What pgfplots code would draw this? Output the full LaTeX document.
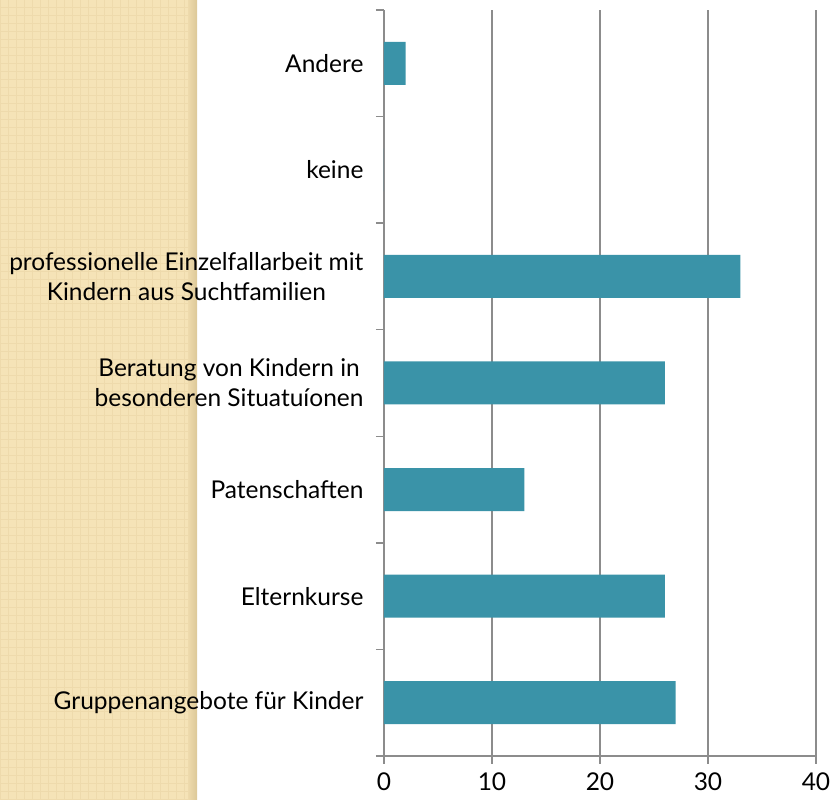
\documentclass[border=0pt]{standalone}
\usepackage{pgfplots}
\pgfplotsset{compat=1.18}
\usepackage{fontspec}
\setmainfont{Lato}
\definecolor{barc}{HTML}{3A93A8}
\definecolor{gridc}{HTML}{8C8C8C}
\definecolor{beige}{HTML}{F5E3B7}
\definecolor{beigeline}{HTML}{EEDAAC}
\definecolor{beigedark}{HTML}{DCC898}
\begin{document}
\begin{tikzpicture}[x=1pt,y=1pt]
\useasboundingbox (0,0) rectangle (831,800);
\fill[beige] (0,0) rectangle (197,800);
\draw[beigeline, line width=1pt, step=8] (0,0) grid (197,800);
\shade[left color=beigeline, right color=beigedark] (188,0) rectangle (197,800);
\begin{axis}[
  at={(384pt,44pt)}, anchor=south west,
  scale only axis, width=432pt, height=746pt,
  xbar, xmin=0, xmax=40, ymin=-0.5, ymax=6.5,
  axis x line=bottom, axis y line=left,
  axis line style={-, draw=gridc, line width=1.5pt},
  xtick={0,10,20,30,40},
  ytick={0,...,6},
  yticklabels={Gruppenangebote für Kinder, Elternkurse, Patenschaften,
    {Beratung von Kindern in\\besonderen Situatuíonen},
    {professionelle Einzelfallarbeit mit\\Kindern aus Suchtfamilien},
    keine, Andere},
  minor ytick={-0.5,0.5,...,6.5},
  tick align=outside,
  major tick length=8pt, minor tick length=8pt,
  ytick style={draw=none},
  minor y tick style={draw=gridc, line width=1.5pt},
  x tick style={draw=gridc, line width=1.5pt},
  xmajorgrids=true,
  major grid style={draw=gridc, line width=1.5pt},
  ticklabel style={font=\fontsize{24.5}{30}\selectfont},
  yticklabel style={align=center, xshift=-9pt},
  xticklabel style={yshift=-8pt, inner sep=1pt},
  /pgf/number format/assume math mode=true,
]
\addplot[fill=barc, draw=none, bar width=43pt] coordinates {
 (27,0) (26,1) (13,2) (26,3) (33,4) (0,5) (2,6)};
\end{axis}
\end{tikzpicture}
\end{document}
